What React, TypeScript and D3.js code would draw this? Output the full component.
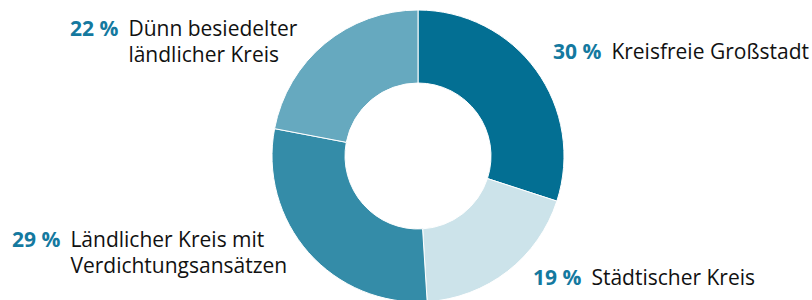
import React, { useRef, useEffect } from "react";
import * as d3 from "d3";

// slices clockwise from 12 o'clock
const categories = [
    ["Kreisfreie Großstadt"],
    ["Städtischer Kreis"],
    ["Ländlicher Kreis mit", "Verdichtungsansätzen"],
    ["Dünn besiedelter", "ländlicher Kreis"],
];
const shares = [30, 19, 29, 22];
const colors = ["#036f93", "#cce3ea", "#348ca8", "#66a9bf"];

// label anchor (x of percent text, baseline of first line)
const labelPos = [
    { x: 553, y: 59 },
    { x: 533, y: 285 },
    { x: 12, y: 247 },
    { x: 70, y: 36 },
];

const width = 812;
const height = 300;

const App: React.FC = () => {
    const svgRef = useRef<SVGSVGElement | null>(null);

    useEffect(() => {
        if (!svgRef.current) return;
        const svg = d3.select(svgRef.current);
        svg.selectAll("*").remove();

        const cx = 418;
        const cy = 156;
        const outer = 146;
        const inner = 73;

        const pie = d3.pie<number>().sort(null).value((d) => d);
        const arc = d3.arc<d3.PieArcDatum<number>>().innerRadius(inner).outerRadius(outer);

        const g = svg.append("g").attr("transform", `translate(${cx},${cy})`);
        g.selectAll("path")
            .data(pie(shares))
            .enter()
            .append("path")
            .attr("d", arc)
            .attr("fill", (_, i) => colors[i])
            .attr("stroke", "#fff")
            .attr("stroke-width", 1);

        // labels
        const font = "'Open Sans', 'Noto Sans', sans-serif";
        shares.forEach((v, i) => {
            const p = labelPos[i];
            const t = svg
                .append("text")
                .attr("x", p.x)
                .attr("y", p.y)
                .attr("font-family", font)
                .attr("font-size", 21)
                .attr("font-weight", 700)
                .attr("fill", "#14799f")
                .text(`${v} %`);
            const w = (t.node() as SVGTextElement).getComputedTextLength();
            const tx = p.x + w + 10;
            categories[i].forEach((line, j) => {
                svg.append("text")
                    .attr("x", tx)
                    .attr("y", p.y + j * 26)
                    .attr("font-family", font)
                    .attr("font-size", 21)
                    .attr("fill", "#111")
                    .text(line);
            });
        });
    }, []);

    return <svg ref={svgRef} width={width} height={height} style={{ display: "block", position: "absolute", left: 0, top: 0 }}></svg>;
};

export default App;
